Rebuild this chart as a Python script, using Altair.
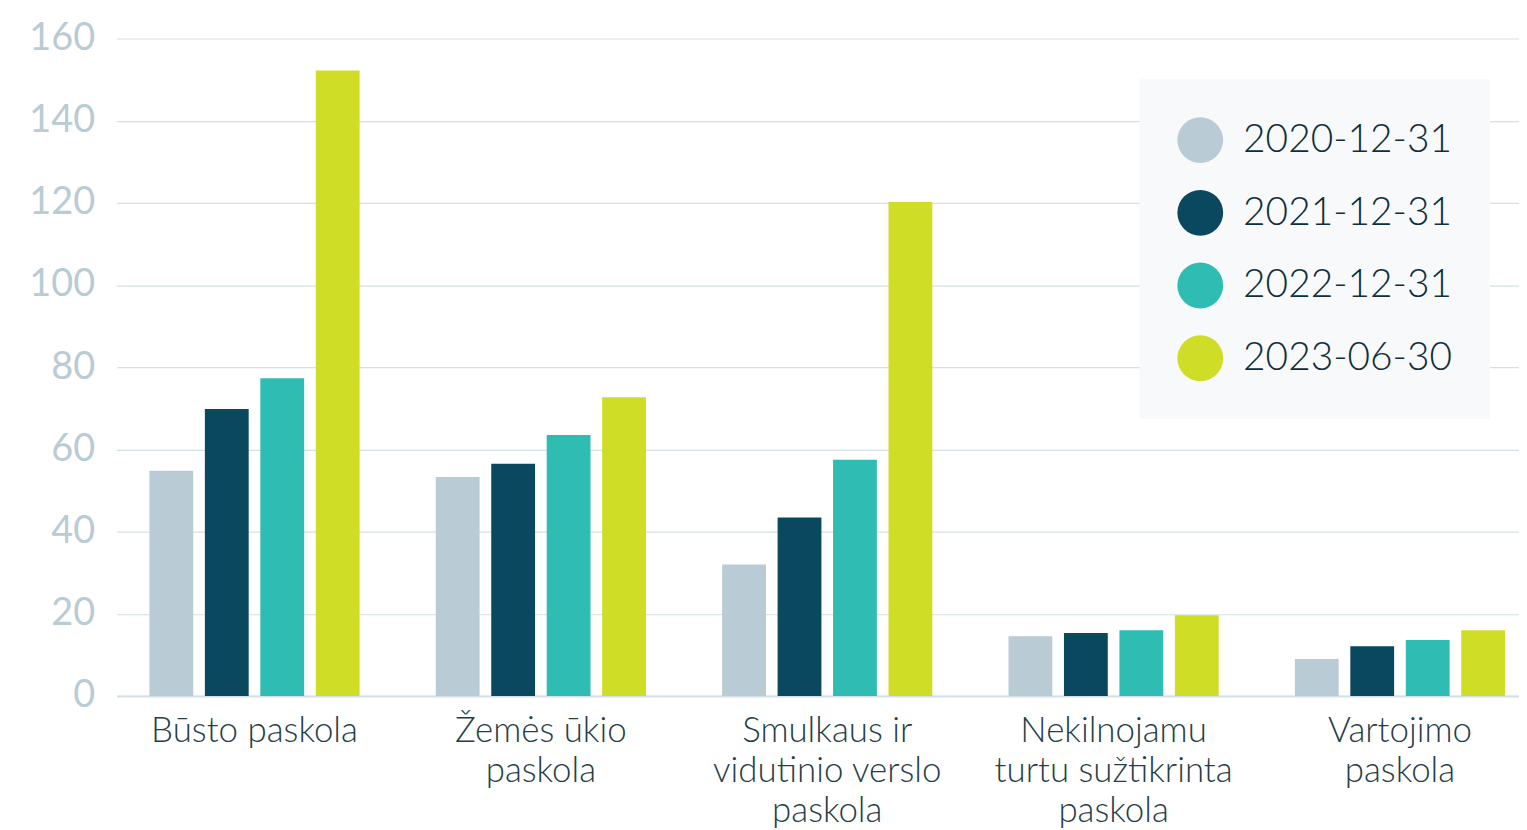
import altair as alt
import pandas as pd

categories = ["Būsto paskola", "Žemės ūkio|paskola", "Smulkaus ir|vidutinio verslo|paskola",
              "Nekilnojamu|turtu sužtikrinta|paskola", "Vartojimo|paskola"]
series = ["2020-12-31", "2021-12-31", "2022-12-31", "2023-06-30"]
values = {
    "2020-12-31": [54.8, 53.3, 32.0, 14.5, 9.0],
    "2021-12-31": [69.8, 56.5, 43.4, 15.3, 12.1],
    "2022-12-31": [77.3, 63.5, 57.5, 16.0, 13.6],
    "2023-06-30": [152.2, 72.7, 120.2, 19.6, 16.0],
}
colors = ["#b9cbd4", "#0a4860", "#2fbcb3", "#cfdd26"]
y_ticks = [0, 20, 40, 60, 80, 100, 120, 140, 160]

rows = []
for s in series:
    for c, v in zip(categories, values[s]):
        rows.append({"cat": c, "series": s, "value": v})
df = pd.DataFrame(rows)

FONT = "Lato"

chart = alt.Chart(df).mark_bar().encode(
    x=alt.X("cat:N", sort=categories, title=None,
            scale=alt.Scale(paddingInner=0.266, paddingOuter=0.0817, align=0.702),
            axis=alt.Axis(labelExpr="split(datum.label, '|')", labelAngle=0,
                          labelFontSize=35, labelFont=FONT, labelFontWeight=300,
                          labelColor="#253d48", labelLineHeight=40, labelPadding=18,
                          ticks=False, domainColor="#d3e0e5", domainWidth=2,
                          labelBaseline="top", labelLimit=400)),
    xOffset=alt.XOffset("series:N", sort=series, scale=alt.Scale(paddingInner=0.21)),
    y=alt.Y("value:Q", title=None,
            scale=alt.Scale(domain=[0, 160], nice=False),
            axis=alt.Axis(values=y_ticks, labelFontSize=38, labelFont=FONT, labelFontWeight=400,
                          labelColor="#b9cbd4", labelPadding=22, ticks=False, domain=False,
                          gridColor="#d3e0e5", gridWidth=1.2)),
    color=alt.Color("series:N", sort=series, title=None,
                    scale=alt.Scale(domain=series, range=colors),
                    legend=alt.Legend(orient="none", legendX=1027, legendY=41,
                                      fillColor="#f7f9fa", padding=38,
                                      symbolType="circle", symbolSize=2116,
                                      symbolStrokeWidth=0, symbolOpacity=1,
                                      labelFontSize=39, labelFont=FONT, labelFontWeight=300,
                                      labelColor="#0f2d3a", labelOffset=20,
                                      rowPadding=27, labelLimit=400)),
).properties(
    width=1408, height=660,
    padding={"left": 109, "top": 29, "right": 0, "bottom": 133},
    autosize=alt.AutoSizeParams(type="none"),
).configure_view(stroke=None)

chart.save("out.html", embed_options={"renderer": "svg", "actions": False})
